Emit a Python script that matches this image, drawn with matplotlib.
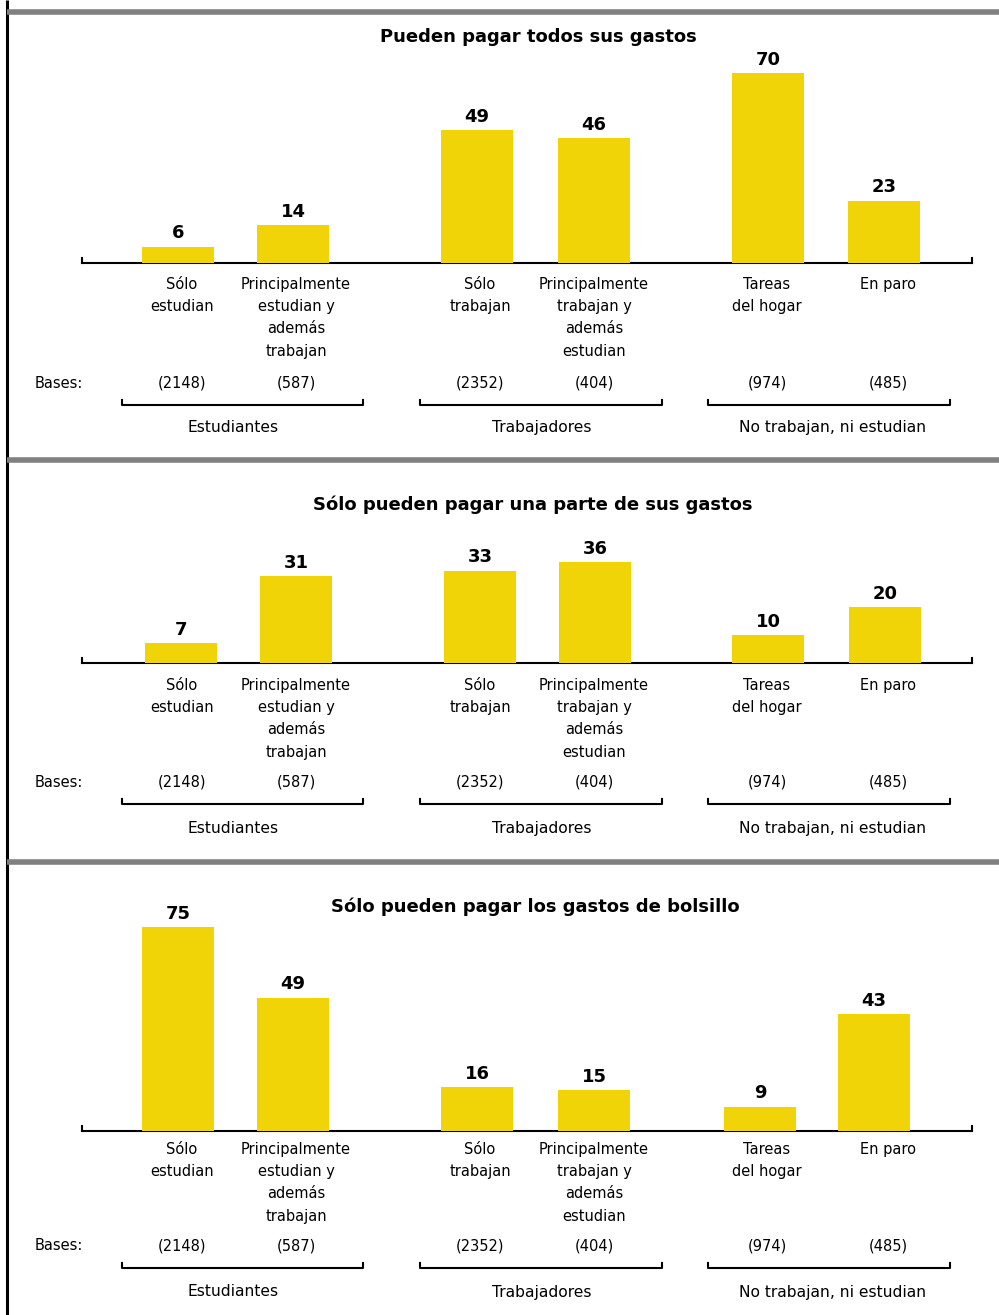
import matplotlib
matplotlib.use("Agg")
import matplotlib.pyplot as plt

# --- data ---
categorias = ["Sólo\nestudian",
              "Principalmente\nestudian y\nademás\ntrabajan",
              "Sólo\ntrabajan",
              "Principalmente\ntrabajan y\nademás\nestudian",
              "Tareas\ndel hogar",
              "En paro"]
bases = ["(2148)", "(587)", "(2352)", "(404)", "(974)", "(485)"]
grupos = ["Estudiantes", "Trabajadores", "No trabajan, ni estudian"]
titulos = ["Pueden pagar todos sus gastos",
           "Sólo pueden pagar una parte de sus gastos",
           "Sólo pueden pagar los gastos de bolsillo"]
todos = [6, 14, 49, 46, 70, 23]
parte = [7, 31, 33, 36, 10, 20]
bolsillo = [75, 49, 16, 15, 9, 43]
valores = [todos, parte, bolsillo]

# --- layout (pixels) ---
W, H = 999, 1315
amarillo = "#F0D408"
gris = "#808080"
label_x = [182, 296, 480, 594, 767, 888]
bar_x = [[178, 293, 477, 594, 768, 884],
         [181, 296, 480, 595, 768, 885],
         [178, 293, 477, 594, 760, 874]]
baseline = [263, 663, 1131]
escala = [2.71, 2.80, 2.72]      # px per unit
titulo_x = [538, 533, 535]
titulo_y = [37, 505, 907]
etiq_y = [277, 678, 1142]
bases_y = [383, 782, 1246]
llave_y = [405, 804, 1268]
grupo_y = [427, 828, 1292]
llaves = [(122, 363), (420, 662), (708, 950)]
grupo_x = [233, 542, 833]
separadores = [12, 460, 862]

fig = plt.figure(figsize=(W / 100, H / 100), dpi=100)
bg = fig.add_axes([0, 0, 1, 1])
bg.set_xlim(0, W)
bg.set_ylim(H, 0)
bg.axis("off")

# frame: left black line and gray separators
bg.plot([7, 7], [0, H], color="black", lw=2.2, solid_capstyle="butt")
for y in separadores:
    bg.plot([7, W], [y, y], color=gris, lw=4, solid_capstyle="butt")

fs = 10.5
for p in range(3):
    b = baseline[p]
    s = escala[p]
    ax = fig.add_axes([0, (H - b) / H, 1, 100 * s / H])
    ax.set_xlim(0, W)
    ax.set_ylim(0, 100)
    ax.axis("off")
    ax.patch.set_alpha(0)
    ax.bar(bar_x[p], valores[p], width=72, color=amarillo, linewidth=0)
    for x, v in zip(bar_x[p], valores[p]):
        ax.annotate(str(v), (x, v), xytext=(0, 6), textcoords="offset points",
                    ha="center", va="baseline", fontsize=13, fontweight="bold")

    # baseline axis
    bg.plot([82, 972], [b, b], color="black", lw=1.5)
    bg.plot([82, 82], [b, b - 5], color="black", lw=1.5)
    bg.plot([972, 972], [b, b - 5], color="black", lw=1.5)

    bg.text(titulo_x[p], titulo_y[p], titulos[p], ha="center", va="center",
            fontsize=13, fontweight="bold")

    for x, c, bs in zip(label_x, categorias, bases):
        bg.text(x, etiq_y[p], c, ha="center", va="top", fontsize=fs,
                linespacing=1.6)
        bg.text(x, bases_y[p], bs, ha="center", va="center", fontsize=fs)
    bg.text(35, bases_y[p], "Bases:", ha="left", va="center", fontsize=fs)

    for (x0, x1), gx, g in zip(llaves, grupo_x, grupos):
        y = llave_y[p]
        bg.plot([x0, x0, x1, x1], [y - 5, y, y, y - 5], color="black", lw=1.5)
        bg.text(gx, grupo_y[p], g, ha="center", va="center", fontsize=11.2)

fig.savefig("out.png", dpi=100)
